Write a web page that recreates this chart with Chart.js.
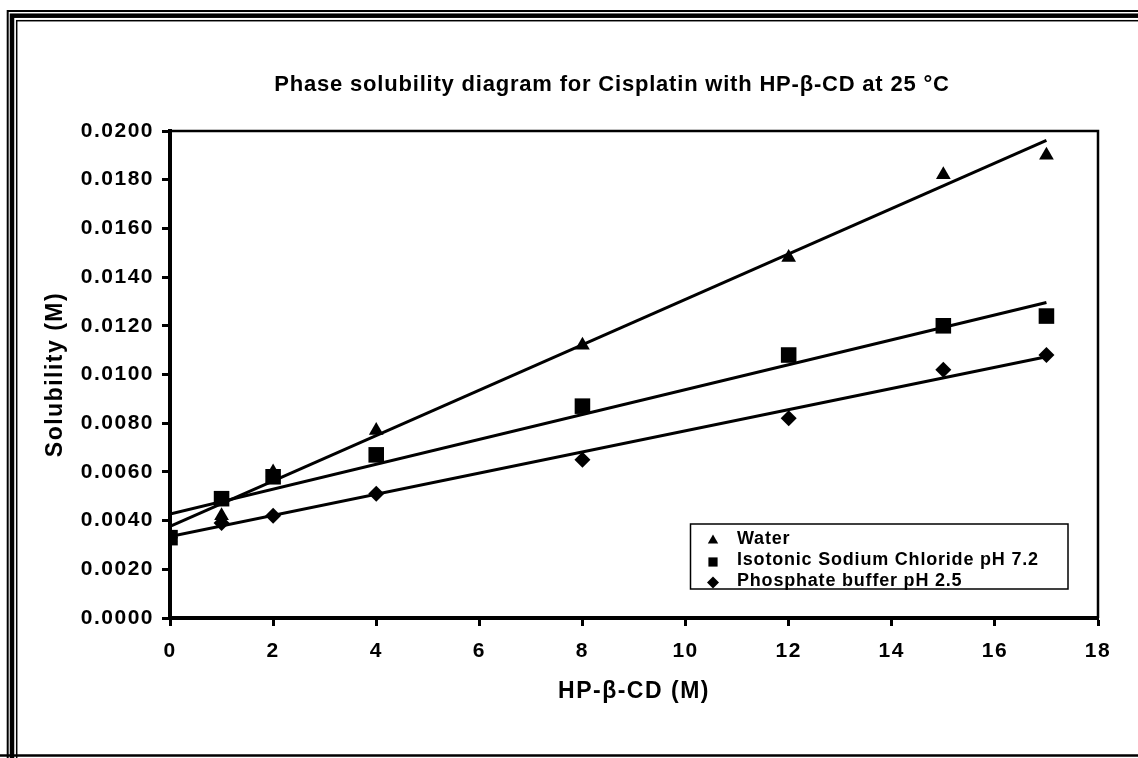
<!DOCTYPE html>
<html>
<head>
<meta charset="utf-8">
<script src="https://cdn.jsdelivr.net/npm/chart.js@4"></script>
<style>
  html, body { margin: 0; padding: 0; background: #fff; }
  canvas { display: block; }
</style>
</head>
<body>
<canvas id="plot" width="1138" height="758"></canvas>
<script>
let chartTitle = 'Phase solubility diagram for Cisplatin with HP-β-CD at 25 °C';
let xTitle = 'HP-β-CD (M)';
let yTitle = 'Solubility (M)';

let seriesNames = ['Water', 'Isotonic Sodium Chloride pH 7.2', 'Phosphate buffer pH 2.5'];

let conc = [0, 1, 2, 4, 8, 12, 15, 17];
let water = [0.0033, 0.0042, 0.0060, 0.0077, 0.0112, 0.0148, 0.0182, 0.0190];
let saline = [0.0033, 0.0049, 0.0058, 0.0067, 0.0087, 0.0108, 0.0120, 0.0124];
let phosphate = [0.0033, 0.0039, 0.0042, 0.0051, 0.0065, 0.0082, 0.0102, 0.0108];

// fitted lines, read at both ends (x = 0 and x = 17)
let trendX = [0, 17];
let waterTrend = [0.00376, 0.01962];
let salineTrend = [0.00427, 0.01296];
let phosphateTrend = [0.00335, 0.01073];

let toPoints = (xs, ys) => xs.map((x, i) => ({x: x, y: ys[i]}));

let markerSet = (label, values, style, radius) => ({
    label: label,
    data: toPoints(conc, values),
    pointStyle: style,
    pointRadius: radius,
    pointHoverRadius: radius,
    pointBackgroundColor: '#000',
    pointBorderColor: '#000',
    pointBorderWidth: 0,
    showLine: false
});

let lineSet = (values) => ({
    label: '',
    data: toPoints(trendX, values),
    showLine: true,
    borderColor: '#000',
    borderWidth: 3,
    pointRadius: 0,
    fill: false
});

let textSpacing = '1.5px';

let spacingPlugin = {
    id: 'spacing',
    beforeUpdate(chart) { chart.ctx.letterSpacing = textSpacing; },
    beforeDraw(chart) { chart.ctx.letterSpacing = textSpacing; }
};

let framePlugin = {
    id: 'frame',
    beforeDraw(chart) {
        let ctx = chart.ctx;
        ctx.save();
        ctx.fillStyle = '#fff';
        ctx.fillRect(0, 0, chart.width, chart.height);
        ctx.strokeStyle = '#000';
        ctx.lineWidth = 2;
        ctx.strokeRect(7.7, 11, 1300, 900);
        ctx.lineWidth = 4.5;
        ctx.strokeRect(12, 15.7, 1300, 900);
        ctx.lineWidth = 1.5;
        ctx.strokeRect(16.7, 20.7, 1300, 900);
        ctx.lineWidth = 2.5;
        ctx.beginPath();
        ctx.moveTo(0, 755.5);
        ctx.lineTo(chart.width, 755.5);
        ctx.stroke();
        ctx.restore();
    },
    beforeDatasetsDraw(chart) {
        let a = chart.chartArea;
        let ctx = chart.ctx;
        ctx.save();
        ctx.strokeStyle = '#000';
        ctx.lineWidth = 2.5;
        ctx.beginPath();
        ctx.moveTo(a.left, a.top);
        ctx.lineTo(a.right, a.top);
        ctx.lineTo(a.right, a.bottom);
        ctx.stroke();
        ctx.restore();
    }
};

let drawMarker = (ctx, style, radius, x, y) => {
    ctx.fillStyle = '#000';
    Chart.helpers.drawPoint(ctx, {pointStyle: style, radius: radius, rotation: 0, borderWidth: 0}, x, y);
};

let titleLegendPlugin = {
    id: 'titleLegend',
    afterDraw(chart) {
        let ctx = chart.ctx;
        ctx.save();
        ctx.fillStyle = '#000';
        ctx.letterSpacing = '0.8px';
        ctx.font = 'bold 22px "Liberation Sans", Arial, sans-serif';
        ctx.textAlign = 'center';
        ctx.textBaseline = 'middle';
        ctx.fillText(chartTitle, 612, 85);

        // legend box
        ctx.strokeStyle = '#000';
        ctx.lineWidth = 1.5;
        ctx.strokeRect(690.5, 524, 377.5, 65);
        ctx.font = 'bold 18px "Liberation Sans", Arial, sans-serif';
        ctx.letterSpacing = '0.8px';
        ctx.textAlign = 'left';
        let rows = [539.5, 560.5, 581];
        let sizes = [6, 6.5, 6];
        for (let i = 0; i < 3; i++) {
            let ds = chart.data.datasets[i];
            drawMarker(ctx, ds.pointStyle, sizes[i], 713, rows[i] + (i === 0 ? 1 : 1.5));
            ctx.fillStyle = '#000';
            ctx.fillText(ds.label, 737, rows[i]);
        }
        ctx.restore();
    }
};

let plotRef = document.getElementById('plot');
let config = {
    type: 'scatter',
    data: {
        datasets: [
            markerSet(seriesNames[0], water, 'triangle', 8.5),
            markerSet(seriesNames[1], saline, 'rect', 11),
            markerSet(seriesNames[2], phosphate, 'rectRot', 8),
            lineSet(waterTrend),
            lineSet(salineTrend),
            lineSet(phosphateTrend)
        ]
    },
    options: {
        responsive: false,
        animation: false,
        events: [],
        layout: {padding: {top: 131, right: 40, bottom: 0, left: 0}},
        plugins: {
            legend: {display: false},
            title: {display: false},
            tooltip: {enabled: false}
        },
        scales: {
            x: {
                type: 'linear',
                min: 0,
                max: 18,
                afterFit: (scale) => { scale.height = 140; },
                ticks: {
                    stepSize: 2,
                    color: '#000',
                    padding: 13,
                    maxRotation: 0,
                    font: {size: 21, weight: 'bold'}
                },
                grid: {
                    drawOnChartArea: false,
                    drawTicks: true,
                    tickLength: 8,
                    tickWidth: 3,
                    tickColor: '#000'
                },
                border: {display: true, color: '#000', width: 4},
                title: {
                    display: true,
                    text: xTitle,
                    color: '#000',
                    font: {size: 23, weight: 'bold'},
                    padding: {top: 0, bottom: 53}
                }
            },
            y: {
                type: 'linear',
                min: 0,
                max: 0.02,
                afterFit: (scale) => { scale.width = 170; },
                ticks: {
                    stepSize: 0.002,
                    color: '#000',
                    padding: 8,
                    font: {size: 21, weight: 'bold'},
                    callback: (v) => v.toFixed(4)
                },
                grid: {
                    drawOnChartArea: false,
                    drawTicks: true,
                    tickLength: 8,
                    tickWidth: 3,
                    tickColor: '#000'
                },
                border: {display: true, color: '#000', width: 4},
                title: {
                    display: true,
                    text: yTitle,
                    color: '#000',
                    font: {size: 23, weight: 'bold'},
                    padding: {top: 42, bottom: 0}
                }
            }
        }
    },
    plugins: [spacingPlugin, framePlugin, titleLegendPlugin]
};

Chart.defaults.font.family = '"Liberation Sans", Arial, sans-serif';
Chart.defaults.color = '#000';
let chart1 = new Chart(plotRef, config);
</script>
</body>
</html>
